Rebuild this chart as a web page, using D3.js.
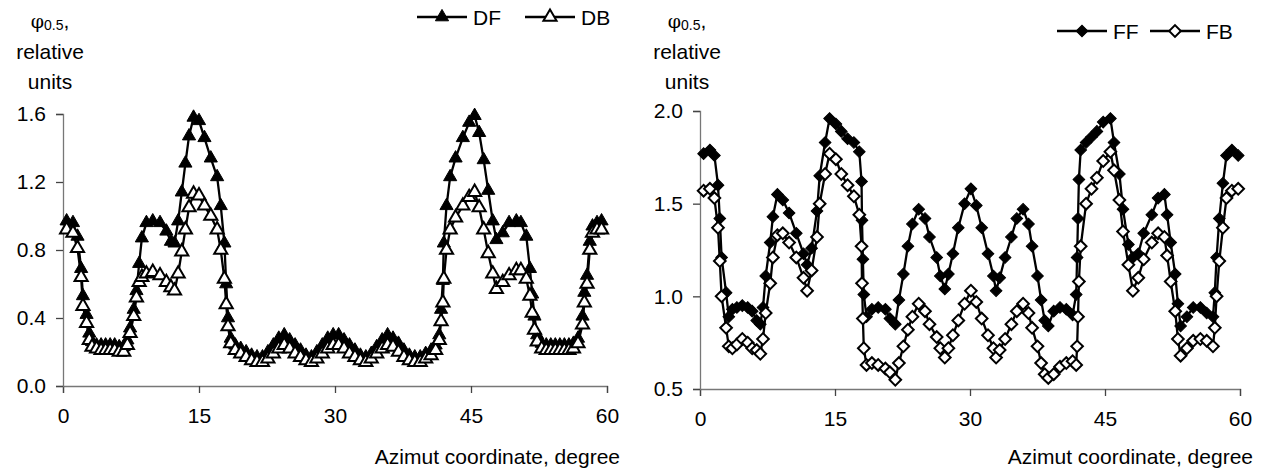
<!DOCTYPE html>
<html>
<head>
<meta charset="utf-8">
<script src="https://cdn.jsdelivr.net/npm/d3@7"></script>
<style>
  body { margin: 0; background: #fff; }
  svg text { font-family: "Liberation Sans", Arial, sans-serif; fill: #000; }
</style>
</head>
<body>
<div id="chart"></div>
<script>
// Left panel: DF / DB, azimuth in degrees
const leftAzimuth = [0.4, 1.1, 1.6, 2.0, 2.2, 2.6, 2.9, 3.2, 3.7, 4.2, 4.7, 5.2, 5.7, 6.2, 6.7, 7.1, 7.4, 7.8, 8.1, 8.4,
  8.7, 9.2, 9.9, 10.7, 11.4, 11.9, 12.3, 12.7, 13.1, 13.5, 13.9, 14.4, 15.0, 15.6, 16.3, 17.0, 17.4, 17.8, 18.0, 18.2,
  18.5, 19.0, 19.6, 20.2, 20.8, 21.4, 22.0, 22.6, 23.2, 23.8, 24.4, 25.0, 25.6, 26.2, 26.8, 27.4, 28.0, 28.6, 29.2, 29.8,
  30.4, 31.0, 31.6, 32.2, 32.8, 33.4, 34.0, 34.6, 35.2, 35.8, 36.4, 37.0, 37.6, 38.2, 38.8, 39.4, 40.0, 40.6, 41.1, 41.5,
  41.7, 41.9, 42.0, 42.3, 42.7, 43.3, 44.1, 44.8, 45.4, 45.9, 46.4, 46.9, 47.4, 47.8, 48.5, 49.2, 50.0, 50.5, 51.1, 51.5,
  51.75, 52.0, 52.3, 52.8, 53.3, 53.8, 54.3, 54.8, 55.3, 55.8, 56.3, 56.8, 57.3, 57.5, 57.8, 58.1, 58.4, 58.9, 59.4];

const dfValues = [0.97, 0.96, 0.88, 0.69, 0.53, 0.42, 0.31, 0.26, 0.24, 0.24, 0.24, 0.24, 0.24, 0.23, 0.23, 0.27, 0.34, 0.45, 0.56, 0.72,
  0.87, 0.96, 0.97, 0.96, 0.91, 0.85, 0.84, 0.97, 1.14, 1.31, 1.47, 1.58, 1.56, 1.46, 1.34, 1.23, 1.06, 0.84, 0.60, 0.40,
  0.28, 0.24, 0.22, 0.20, 0.18, 0.17, 0.17, 0.20, 0.24, 0.28, 0.30, 0.27, 0.24, 0.21, 0.18, 0.17, 0.20, 0.24, 0.28, 0.30,
  0.30, 0.27, 0.24, 0.21, 0.18, 0.17, 0.19, 0.23, 0.27, 0.30, 0.28, 0.25, 0.21, 0.18, 0.17, 0.17, 0.19, 0.21, 0.24, 0.30,
  0.45, 0.62, 0.84, 1.06, 1.23, 1.34, 1.46, 1.55, 1.59, 1.49, 1.33, 1.15, 0.97, 0.86, 0.90, 0.96, 0.97, 0.96, 0.88, 0.69,
  0.54, 0.41, 0.30, 0.25, 0.24, 0.24, 0.24, 0.24, 0.24, 0.24, 0.25, 0.28, 0.41, 0.55, 0.65, 0.85, 0.94, 0.96, 0.97];

const dbValues = [0.92, 0.90, 0.81, 0.64, 0.47, 0.37, 0.27, 0.23, 0.22, 0.21, 0.21, 0.21, 0.21, 0.20, 0.20, 0.24, 0.31, 0.41, 0.52, 0.61,
  0.64, 0.66, 0.67, 0.65, 0.61, 0.58, 0.56, 0.66, 0.79, 0.92, 1.05, 1.13, 1.12, 1.06, 1.00, 0.92, 0.80, 0.63, 0.48, 0.35,
  0.25, 0.21, 0.19, 0.17, 0.15, 0.14, 0.14, 0.16, 0.19, 0.22, 0.24, 0.22, 0.19, 0.17, 0.15, 0.14, 0.16, 0.19, 0.22, 0.24,
  0.24, 0.22, 0.19, 0.17, 0.15, 0.14, 0.16, 0.19, 0.22, 0.24, 0.23, 0.20, 0.17, 0.15, 0.14, 0.14, 0.16, 0.18, 0.21, 0.27,
  0.38, 0.49, 0.63, 0.80, 0.92, 0.99, 1.06, 1.11, 1.14, 1.05, 0.92, 0.78, 0.66, 0.57, 0.61, 0.65, 0.68, 0.68, 0.63, 0.53,
  0.43, 0.33, 0.26, 0.22, 0.21, 0.21, 0.21, 0.21, 0.21, 0.21, 0.22, 0.25, 0.36, 0.49, 0.60, 0.80, 0.90, 0.92, 0.92];

// Right panel: FF / FB
const rightAzimuth = [0.4, 1.1, 1.6, 2.0, 2.2, 2.4, 2.9, 3.2, 3.6, 4.1, 4.7, 5.3, 5.8, 6.3, 6.7, 7.0, 7.3, 7.8, 8.1, 8.6,
  9.2, 9.9, 10.7, 11.5, 11.9, 12.4, 13.0, 13.3, 13.9, 14.4, 15.1, 15.7, 16.4, 17.1, 17.7, 17.95, 18.0, 18.1, 18.2, 18.5,
  19.1, 19.8, 20.6, 21.1, 21.7, 22.1, 22.6, 23.1, 23.6, 24.3, 25.0, 25.5, 26.3, 26.7, 27.2, 27.6, 28.1, 28.7, 29.4, 30.1,
  30.7, 31.3, 32.0, 32.6, 32.9, 33.3, 33.9, 34.6, 35.2, 35.9, 36.5, 36.9, 37.5, 37.9, 38.3, 38.7, 39.3, 40.0, 40.7, 41.4,
  41.8, 41.9, 42.0, 42.1, 42.3, 42.9, 43.5, 44.1, 44.8, 45.6, 46.0, 46.6, 47.0, 47.6, 48.1, 48.7, 49.3, 50.2, 50.9, 51.6,
  51.9, 52.3, 52.8, 53.1, 53.4, 54.1, 54.8, 55.6, 56.3, 57.0, 57.2, 57.4, 57.7, 58.1, 58.5, 59.1, 59.8];

const ffValues = [1.77, 1.79, 1.76, 1.60, 1.42, 1.21, 1.02, 0.89, 0.93, 0.94, 0.95, 0.94, 0.92, 0.87, 0.85, 0.94, 1.11, 1.29, 1.43, 1.55,
  1.52, 1.45, 1.34, 1.23, 1.17, 1.26, 1.46, 1.65, 1.83, 1.96, 1.93, 1.89, 1.85, 1.83, 1.78, 1.62, 1.41, 1.20, 1.01, 0.89,
  0.93, 0.94, 0.93, 0.88, 0.85, 0.98, 1.12, 1.27, 1.39, 1.47, 1.42, 1.32, 1.21, 1.11, 1.04, 1.12, 1.23, 1.37, 1.50, 1.58,
  1.49, 1.37, 1.23, 1.11, 1.03, 1.10, 1.21, 1.32, 1.42, 1.47, 1.39, 1.27, 1.11, 0.98, 0.87, 0.84, 0.92, 0.94, 0.93, 0.90,
  1.01, 1.21, 1.42, 1.63, 1.79, 1.83, 1.86, 1.89, 1.94, 1.96, 1.83, 1.66, 1.47, 1.28, 1.21, 1.23, 1.34, 1.44, 1.53, 1.55,
  1.44, 1.29, 1.12, 0.96, 0.84, 0.89, 0.94, 0.94, 0.91, 0.89, 1.02, 1.21, 1.42, 1.61, 1.76, 1.79, 1.76];

const fbValues = [1.57, 1.58, 1.53, 1.37, 1.19, 1.00, 0.83, 0.73, 0.72, 0.74, 0.77, 0.75, 0.72, 0.71, 0.69, 0.77, 0.91, 1.07, 1.21, 1.33,
  1.34, 1.29, 1.21, 1.10, 1.03, 1.14, 1.32, 1.50, 1.66, 1.77, 1.74, 1.66, 1.60, 1.54, 1.44, 1.27, 1.07, 0.88, 0.72, 0.63,
  0.64, 0.63, 0.61, 0.59, 0.55, 0.64, 0.73, 0.82, 0.89, 0.96, 0.92, 0.85, 0.78, 0.72, 0.67, 0.72, 0.79, 0.87, 0.96, 1.03,
  0.97, 0.88, 0.79, 0.72, 0.67, 0.71, 0.77, 0.85, 0.92, 0.96, 0.91, 0.83, 0.73, 0.64, 0.58, 0.56, 0.58, 0.62, 0.64, 0.65,
  0.63, 0.73, 0.89, 1.08, 1.27, 1.50, 1.58, 1.64, 1.73, 1.78, 1.68, 1.52, 1.35, 1.17, 1.03, 1.10, 1.20, 1.29, 1.34, 1.32,
  1.22, 1.08, 0.92, 0.77, 0.68, 0.72, 0.76, 0.77, 0.76, 0.73, 0.83, 1.00, 1.19, 1.37, 1.53, 1.57, 1.58];

const xTicks = [0, 15, 30, 45, 60];
const leftYTicks = [0.0, 0.4, 0.8, 1.2, 1.6];
const rightYTicks = [0.5, 1.0, 1.5, 2.0];

const FONT = 21;

const svg = d3.select("#chart")
    .append("svg")
    .attr("width", 1268)
    .attr("height", 470);

const triangle = d3.symbol().type(d3.symbolTriangle).size(75);
const diamond = d3.symbol().type(d3.symbolSquare).size(68);

function drawPanel(p) {
    const x = d3.scaleLinear().domain([0, 60]).range([p.x0, p.x1]);
    const y = d3.scaleLinear().domain(p.yDomain).range([p.yBottom, p.yTop]);

    const g = svg.append("g");

    // X axis
    g.append("g")
        .attr("transform", `translate(0,${p.yBottom})`)
        .call(d3.axisBottom(x).tickValues(xTicks).tickSize(7).tickPadding(15).tickFormat(d3.format("d")))
        .call(a => a.select(".domain").attr("stroke", "#777").attr("stroke-width", 1.3))
        .call(a => a.selectAll(".tick line").attr("stroke", "#444").attr("stroke-width", 1.3))
        .call(a => a.selectAll("text").attr("font-size", FONT).attr("fill", "#000")
            .attr("font-family", "Liberation Sans, Arial, sans-serif"));

    // Y axis
    g.append("g")
        .attr("transform", `translate(${p.x0},0)`)
        .call(d3.axisLeft(y).tickValues(p.yTicks).tickSize(7).tickPadding(10).tickFormat(d3.format(".1f")))
        .call(a => a.select(".domain").attr("stroke", "#777").attr("stroke-width", 1.3))
        .call(a => a.selectAll(".tick line").attr("stroke", "#444").attr("stroke-width", 1.3))
        .call(a => a.selectAll("text").attr("font-size", FONT).attr("fill", "#000")
            .attr("font-family", "Liberation Sans, Arial, sans-serif"));

    // Axis titles
    const yt = g.append("text")
        .attr("x", p.x0 - 13)
        .attr("y", 28)
        .attr("text-anchor", "middle")
        .attr("font-size", FONT);
    yt.append("tspan").attr("font-family", "DejaVu Serif, serif").attr("font-size", 19).text("φ");
    yt.append("tspan").attr("font-size", 14).attr("dy", 2).text("0.5");
    yt.append("tspan").attr("dy", -2).text(",");

    g.append("text").attr("x", p.x0 - 13).attr("y", 59)
        .attr("text-anchor", "middle").attr("font-size", FONT).text("relative");
    g.append("text").attr("x", p.x0 - 13).attr("y", 89)
        .attr("text-anchor", "middle").attr("font-size", FONT).text("units");

    g.append("text")
        .attr("x", p.x1 + 13)
        .attr("y", 464)
        .attr("text-anchor", "end")
        .attr("font-size", FONT)
        .text("Azimut coordinate, degree");

    const line = d3.line().x(d => x(d[0])).y(d => y(d[1]));

    // Series
    p.series.forEach(s => {
        const pts = p.azimuth.map((a, i) => [a, s.values[i]]);
        g.append("path")
            .datum(pts)
            .attr("fill", "none")
            .attr("stroke", "#000")
            .attr("stroke-width", 2.3)
            .attr("d", line);
        g.selectAll(null)
            .data(pts)
            .enter().append("path")
            .attr("d", s.symbol)
            .attr("transform", d => `translate(${x(d[0])},${y(d[1])})${s.rotate ? " rotate(45)" : ""}`)
            .attr("fill", s.fill)
            .attr("stroke", "#000")
            .attr("stroke-width", s.fill === "#fff" ? 2 : 1);
    });

    // Legend
    p.series.forEach((s, i) => {
        const lx = p.legendX[i];
        const lg = g.append("g").attr("transform", `translate(${lx},${p.legendY})`);
        lg.append("line").attr("x1", 0).attr("x2", 50).attr("y1", 0).attr("y2", 0)
            .attr("stroke", "#000").attr("stroke-width", 2.3);
        lg.append("path").attr("d", s.symbol)
            .attr("transform", `translate(25,0)${s.rotate ? " rotate(45)" : ""}`)
            .attr("fill", s.fill).attr("stroke", "#000")
            .attr("stroke-width", s.fill === "#fff" ? 2 : 1);
        lg.append("text").attr("x", 56).attr("y", 0).attr("dy", "0.36em")
            .attr("font-size", FONT).text(s.name);
    });
}

drawPanel({
    x0: 63, x1: 607, yTop: 114, yBottom: 386, yDomain: [0, 1.6], yTicks: leftYTicks,
    azimuth: leftAzimuth,
    legendX: [417, 525], legendY: 17,
    series: [
        { name: "DF", values: dfValues, symbol: triangle, fill: "#000" },
        { name: "DB", values: dbValues, symbol: triangle, fill: "#fff" }
    ]
});

drawPanel({
    x0: 700, x1: 1240, yTop: 111, yBottom: 389, yDomain: [0.5, 2.0], yTicks: rightYTicks,
    azimuth: rightAzimuth,
    legendX: [1057, 1150], legendY: 31,
    series: [
        { name: "FF", values: ffValues, symbol: diamond, fill: "#000", rotate: true },
        { name: "FB", values: fbValues, symbol: diamond, fill: "#fff", rotate: true }
    ]
});
</script>
</body>
</html>
